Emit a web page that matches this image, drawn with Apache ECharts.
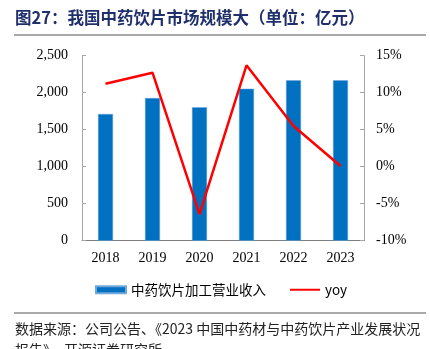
<!DOCTYPE html>
<html><head><meta charset="utf-8">
<script src="https://cdn.jsdelivr.net/npm/echarts@6/dist/echarts.min.js"></script>
<style>html,body{margin:0;padding:0;background:#fff}#c{width:430px;height:349px}</style>
</head><body><div id="c"></div>
<script>
const categories = ['2018','2019','2020','2021','2022','2023'];
const revenue = [1712, 1928, 1803, 2054, 2167, 2168];
const yoy = [11.2, 12.7, -6.4, 13.7, 5.5, 0.1];
const leftTicks = [0, 500, 1000, 1500, 2000, 2500];
const rightTicks = [-10, -5, 0, 5, 10, 15];
const seriesNames = ['中药饮片加工营业收入', 'yoy'];
const titleText = '图27：我国中药饮片市场规模大（单位：亿元）';
const sourceText = '数据来源：公司公告、《2023 中国中药材与中药饮片产业发展状况';
const sourceText2 = '报告》，开源证券研究所';

const serif = '"Liberation Serif","DejaVu Serif",serif';
const cjk = '"Noto Sans CJK SC","Noto Sans",sans-serif';
const chart = echarts.init(document.getElementById('c'), null, {renderer:'canvas'});
chart.setOption({
  animation:false,
  grid:{left:82, right:66, top:55.7, bottom:108.3},
  legend:{
    left:90, top:278, itemWidth:30, itemHeight:7, itemGap:24,
    textStyle:{fontFamily:cjk, fontSize:13.5, color:'#000'},
    data:[
      {name:seriesNames[0], icon:'rect'},
      {name:seriesNames[1], icon:'path://M0,0 M30,7 M0,2.5 H30 V4.5 H0 Z', itemStyle:{color:'#FF0000'}}
    ]
  },
  xAxis:{
    type:'category', data:categories,
    axisLine:{lineStyle:{color:'#7f7f7f', width:1}},
    axisTick:{inside:true, length:5, lineStyle:{color:'#7f7f7f'}},
    axisLabel:{fontFamily:serif, fontSize:14, color:'#000', margin:11}
  },
  yAxis:[{
    type:'value', min:0, max:2500, interval:500,
    axisLine:{show:true, lineStyle:{color:'#a6a6a6'}},
    axisTick:{show:true, inside:true, length:4, lineStyle:{color:'#a6a6a6'}},
    splitLine:{show:false},
    axisLabel:{fontFamily:serif, fontSize:14, color:'#000', margin:14,
      formatter:v=>v.toLocaleString('en-US')}
  },{
    type:'value', min:-10, max:15, interval:5, position:'right',
    axisLine:{show:true, lineStyle:{color:'#a6a6a6'}},
    axisTick:{show:true, inside:true, length:4, lineStyle:{color:'#a6a6a6'}},
    splitLine:{show:false},
    axisLabel:{fontFamily:serif, fontSize:14, color:'#000', margin:12,
      formatter:v=>v+'%'}
  }],
  series:[{
    name:seriesNames[0], type:'bar', data:revenue, barWidth:15,
    itemStyle:{color:'#0070C0', borderColor:'#6fa8dc', borderWidth:0.5}
  },{
    name:seriesNames[1], type:'line', yAxisIndex:1, data:yoy,
    symbol:'none', lineStyle:{color:'#FF0000', width:2.5}, itemStyle:{color:'#FF0000'}
  }],
  graphic:[
    {type:'text', left:15, top:9, style:{text:titleText, fontFamily:cjk, fontWeight:'bold', fontSize:16.5, fill:'#1f2f6b'}},
    {type:'line', shape:{x1:14, y1:35, x2:426, y2:35}, style:{stroke:'#8c8c8c', lineWidth:1.5}},
    {type:'line', shape:{x1:14, y1:313, x2:426, y2:313}, style:{stroke:'#8c8c8c', lineWidth:1.5}},
    {type:'text', left:15, top:322, style:{text:sourceText, fontFamily:cjk, fontSize:14, fill:'#222'}},
    {type:'text', left:15, top:343, style:{text:sourceText2, fontFamily:cjk, fontSize:14, fill:'#222'}}
  ]
});
</script></body></html>
